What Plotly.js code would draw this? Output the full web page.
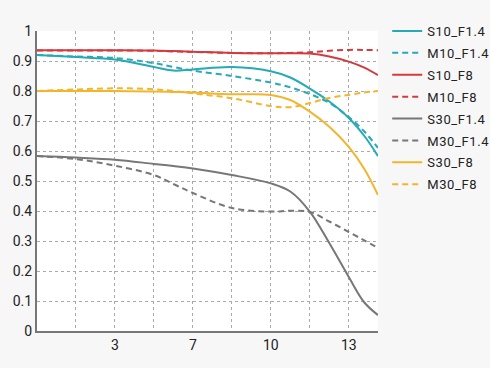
<!DOCTYPE html>
<html><head><meta charset="utf-8">
<script src="https://cdn.plot.ly/plotly-3.0.1.min.js"></script>
<style>html,body{margin:0;padding:0;background:#f7f7f7}#chart{width:490px;height:368px}
.legendtext{letter-spacing:0.6px}</style>
</head><body><div id="chart"></div>
<script>
const xPos = [0,1,2,3,3.5,4,5,6,6.5,7,7.5,8,8.4,8.75];
const tickPos = [1,2,3,4,5,6,7,8];
const tickLabels = ["","3","","7","","10","","13"];
const seriesNames = ["S10_F1.4","M10_F1.4","S10_F8","M10_F8","S30_F1.4","M30_F1.4","S30_F8","M30_F8"];
const s10f14 = [0.92,0.913,0.905,0.88,0.868,0.872,0.88,0.866,0.845,0.808,0.765,0.71,0.65,0.583];
const m10f14 = [0.92,0.915,0.91,0.893,0.88,0.868,0.85,0.828,0.812,0.79,0.76,0.713,0.665,0.61];
const s10f8  = [0.936,0.936,0.936,0.935,0.933,0.931,0.927,0.926,0.926,0.925,0.915,0.898,0.878,0.853];
const m10f8  = [0.935,0.935,0.935,0.934,0.932,0.93,0.927,0.926,0.927,0.929,0.934,0.937,0.937,0.936];
const s30f14 = [0.583,0.578,0.571,0.557,0.55,0.542,0.52,0.492,0.465,0.398,0.293,0.18,0.095,0.053];
const m30f14 = [0.583,0.573,0.551,0.52,0.49,0.46,0.41,0.398,0.401,0.397,0.365,0.33,0.302,0.277];
const s30f8  = [0.80,0.80,0.80,0.798,0.797,0.795,0.789,0.787,0.77,0.731,0.681,0.614,0.54,0.453];
const m30f8  = [0.80,0.805,0.809,0.806,0.80,0.792,0.776,0.75,0.746,0.76,0.777,0.787,0.795,0.80];

const values = [s10f14,m10f14,s10f8,m10f8,s30f14,m30f14,s30f8,m30f8];
const colors = ["#27a9b6","#27a9b6","#d23b3f","#d23b3f","#777777","#777777","#f2b52c","#f2b52c"];
const traces = values.map((v,i)=>({
  x: xPos, y: v, name: seriesNames[i], legendgroup: "g"+i, type:"scatter", mode:"lines",
  line:{color:colors[i], width:2, shape:"spline", dash: i%2===1 ? "6px,4px" : "solid"}
}));
const layout = {
  width:490, height:368,
  paper_bgcolor:"#f7f7f7", plot_bgcolor:"#ffffff",
  margin:{l:37,r:112,t:31,b:37,autoexpand:false},
  font:{family:"Roboto, sans-serif", size:14, color:"#222"},
  showlegend:true,
  legend:{x:1.027, xanchor:"left", y:1.05, yanchor:"top", bgcolor:"rgba(0,0,0,0)",
          font:{size:13,color:"#222"}, tracegroupgap:2},
  xaxis:{range:[0,8.75], tickmode:"array", tickvals:tickPos, ticktext:tickLabels,
         showgrid:true, gridcolor:"#aaaaaa", griddash:"3px,3px", gridwidth:1,
         showline:true, linecolor:"#777", linewidth:2, zeroline:false, ticks:"", fixedrange:true},
  yaxis:{range:[0,1], tickmode:"array", tickvals:[0,0.1,0.2,0.3,0.4,0.5,0.6,0.7,0.8,0.9,1],
         ticktext:["0","0.1","0.2","0.3","0.4","0.5","0.6","0.7","0.8","0.9","1"],
         showgrid:true, gridcolor:"#aaaaaa", griddash:"3px,3px", gridwidth:1,
         showline:true, linecolor:"#777", linewidth:2, zeroline:false, ticks:"", fixedrange:true}
};
Plotly.newPlot("chart", traces, layout, {displayModeBar:false, staticPlot:true});
</script></body></html>
